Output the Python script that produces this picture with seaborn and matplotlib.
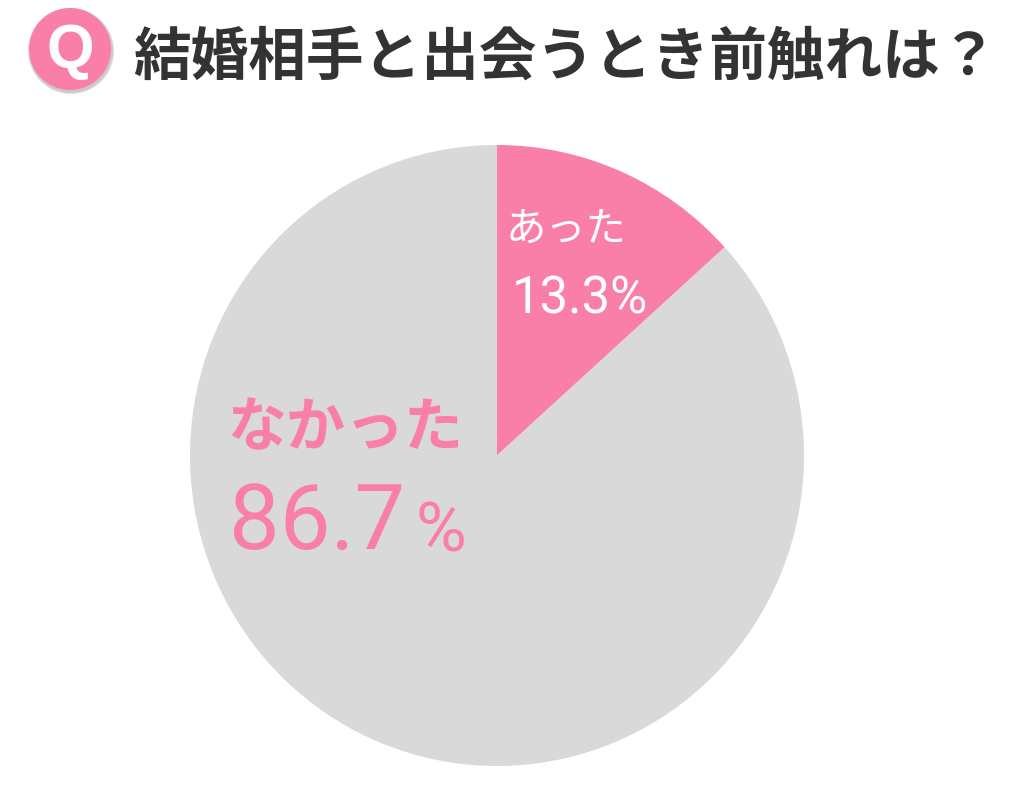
import matplotlib
matplotlib.use("Agg")
import matplotlib.pyplot as plt
from matplotlib.patches import Circle
import seaborn as sns

labels = ["あった", "なかった"]
values = [13.3, 86.7]
title = "結婚相手と出会うとき前触れは？"

sns.set_theme(style="white")
plt.rcParams['font.family'] = ['Noto Sans CJK JP', 'DejaVu Sans']

pink = "#f97fa9"
grey = "#d9d9d9"
W, H = 1024, 791

fig = plt.figure(figsize=(W / 100, H / 100), dpi=100)

# pie in a pixel frame so it lines up with the picture
pax = fig.add_axes([190 / W, 1 - 766 / H, 614 / W, 621 / H])
pax.pie(values, colors=[pink, grey], startangle=90, counterclock=False, radius=1,
        wedgeprops={"linewidth": 0})
pax.set_xlim(-1, 1)
pax.set_ylim(-1, 1)
pax.set_aspect("auto")

ax2 = fig.add_axes([0, 0, 1, 1], facecolor="none")
ax2.set_xlim(0, W)
ax2.set_ylim(H, 0)
ax2.axis("off")

# soft shadow under the badge
for r, a in [(43.5, 0.03), (43, 0.05), (42.5, 0.06), (42, 0.08)]:
    ax2.add_patch(Circle((71, 51), r, color="black", alpha=a, lw=0, zorder=2))
ax2.add_patch(Circle((70, 49), 41, color=pink, lw=0, zorder=3))
ax2.text(70, 51, "Q", color="white", fontsize=44, fontweight="bold", family="Liberation Sans",
         ha="center", va="center", zorder=4)
ax2.text(133, 58, title, color="#333333", fontsize=41.5, fontweight="bold", ha="left", va="center")

ax2.text(566, 229, labels[0], color="white", fontsize=29, ha="center", va="center")
ax2.text(580, 300, f"{values[0]}%", color="white", fontsize=36.5, family="Roboto", ha="center", va="center")
ax2.text(345, 429, labels[1], color=pink, fontsize=42.5, fontweight="bold", ha="center", va="center")
ax2.text(229, 524, f"{values[1]}", color=pink, fontsize=65, family="Roboto", ha="left", va="center")
ax2.text(441, 532, "%", color=pink, fontsize=50, family="Roboto", ha="center", va="center")

fig.savefig("out.png", dpi=100)
